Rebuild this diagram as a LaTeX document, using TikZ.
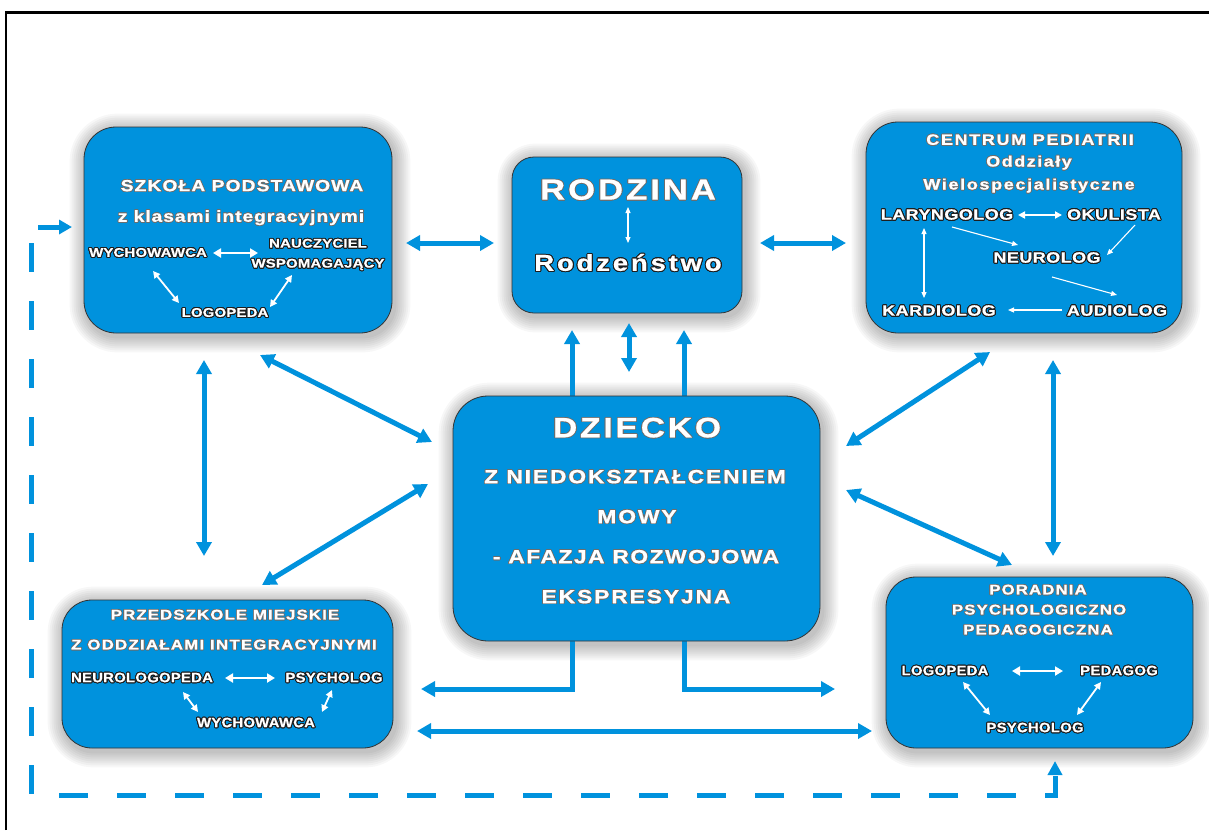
\documentclass[tikz,border=0pt]{standalone}
\usepackage{fontspec}
\setmainfont{Liberation Sans}
\usepackage{contour}
\usetikzlibrary{arrows.meta,calc}
\definecolor{boxblue}{RGB}{0,146,221}
\definecolor{titleline}{RGB}{110,110,110}
\definecolor{itemline}{RGB}{30,30,30}
\pgfdeclarelayer{bg}
\pgfsetlayers{bg,main}
\newcommand\ttl[4]{{\bfseries\fontsize{#1}{#1}\selectfont\addfontfeature{LetterSpace=#2,FakeStretch=#3,FakeBold=0.6}\contourlength{0.7pt}\contour{titleline}{#4}}}
\newcommand\itm[4]{{\bfseries\fontsize{#1}{#1}\selectfont\addfontfeature{LetterSpace=#2,FakeStretch=#3,FakeBold=0.5}\contourlength{1pt}\contour{itemline}{#4}}}
\newcommand\halo[2]{%
  \foreach \k in {1,...,8}{%
    \pgfmathsetmacro\rr{#2+\k*2}%
    \pgfmathsetmacro\ee{\k*2}%
    \fill[black,opacity=0.032,rounded corners=\rr pt]
      ($(#1.north west)+(-\ee+2,-\ee+3)$) rectangle ($(#1.south east)+(\ee+2,\ee+3)$);}}
\tikzset{
  box/.style={draw=black!80, line width=0.8pt, fill=boxblue, inner sep=0pt},
  lbl/.style={inner sep=0pt, text=white},
  conn/.style={draw=boxblue, line width=5pt, {Triangle[length=14pt,width=15pt]}-{Triangle[length=14pt,width=15pt]}},
  conn1/.style={draw=boxblue, line width=5pt, -{Triangle[length=14pt,width=15pt]}},
  wbig/.style={draw=white, line width=2.5pt, {Triangle[length=8pt,width=9pt]}-{Triangle[length=8pt,width=9pt]}},
  wmid/.style={draw=white, line width=1.8pt, {Triangle[length=7pt,width=7pt]}-{Triangle[length=7pt,width=7pt]}},
  wthin/.style={draw=white, line width=1.1pt, -{Triangle[length=6pt,width=5pt]}},
  wthind/.style={draw=white, line width=1.1pt, {Triangle[length=6pt,width=5pt]}-{Triangle[length=6pt,width=5pt]}},
}
\begin{document}
\begin{tikzpicture}[x=1pt,y=-1pt]
\useasboundingbox (0,0) rectangle (1209,830);

% boxes
\node[box, minimum width=308pt, minimum height=206pt, rounded corners=32pt] (szk) at (238,230) {};
\node[box, minimum width=230pt, minimum height=156pt, rounded corners=22pt] (rod) at (627,235) {};
\node[box, minimum width=316pt, minimum height=211pt, rounded corners=32pt] (cen) at (1024,227.5) {};
\node[box, minimum width=367pt, minimum height=245pt, rounded corners=35pt] (dzi) at (636.5,518.5) {};
\node[box, minimum width=331pt, minimum height=148pt, rounded corners=30pt] (prz) at (227.5,674) {};
\node[box, minimum width=307pt, minimum height=171pt, rounded corners=30pt] (por) at (1039.5,662.5) {};

\begin{pgfonlayer}{bg}
\fill[white] (0,0) rectangle (1209,830);
\draw[line width=2.4pt] (6,830) -- (6,12.5) -- (1209,12.5);
\halo{szk}{32}\halo{rod}{22}\halo{cen}{32}\halo{dzi}{35}\halo{prz}{30}\halo{por}{30}
% blue connectors
\draw[conn] ($(szk)+(168,13)$) -- ($(rod)+(-133,8)$);
\draw[conn] ($(rod)+(133,8)$) -- ($(cen)+(-178,15.5)$);
\draw[conn] ($(rod)+(2,88)$) -- ($(dzi)+(-7.5,-146.5)$);
\draw[conn1] ($(dzi)+(-64.5,-122.5)$) -- ($(rod)+(-55,95)$);
\draw[conn1] ($(dzi)+(47.5,-122.5)$) -- ($(rod)+(57,95)$);
\draw[conn] ($(szk)+(22,125)$) -- ($(dzi)+(-204.5,-76.5)$);
\draw[conn] ($(szk)+(-34,130)$) -- ($(prz)+(-23.5,-118)$);
\draw[conn] ($(prz)+(34.5,-89)$) -- ($(dzi)+(-208.5,-34.5)$);
\draw[conn] ($(cen)+(-34,124.5)$) -- ($(dzi)+(209.5,-72.5)$);
\draw[conn] ($(cen)+(29,132.5)$) -- ($(por)+(13.5,-106.5)$);
\draw[conn] ($(dzi)+(209.5,-28.5)$) -- ($(por)+(-27.5,-97.5)$);
\coordinate (bl) at (421,689);
\coordinate (br) at (835,689);
\draw[conn1] ($(dzi)+(-64.5,120)$) |- (bl);
\draw[conn1] ($(dzi)+(47.5,120)$) |- (br);
\draw[conn] ($(prz)+(189.5,57)$) -- ($(por)+(-167.5,68.5)$);
\coordinate (dsA) at (31,243);
\coordinate (dsB) at (31,795);
\coordinate (dsC) at (1055,795);
\draw[draw=boxblue, line width=5pt, dash pattern=on 29pt off 29pt, -{Triangle[length=14pt,width=14pt]}] (dsA) -- (dsB) -- (dsC) -- ($(por)+(15.5,98.5)$);
\coordinate (sa) at (38,227);
\draw[conn1, -{Triangle[length=13pt,width=14pt]}] (sa) -- ($(szk)+(-166,-3)$);
\end{pgfonlayer}

% Szkoła
\node[lbl] (s1) at (242,186) {\ttl{16}{7}{1.2}{SZKOŁA PODSTAWOWA}};
\node[lbl] (s2) at (241,218) {\ttl{16}{6}{1.2}{z klasami integracyjnymi}};
\node[lbl] (wych1) at (148,253) {\itm{12.5}{1}{1.2}{WYCHOWAWCA}};
\node[lbl, align=center, font=\fontsize{13}{20}\selectfont] (naucz) at (318,255) {\itm{12.5}{1}{1.2}{NAUCZYCIEL}\\\itm{12.5}{1}{1.2}{WSPOMAGAJĄCY}};
\node[lbl] (logo1) at (225,313) {\itm{12.5}{1}{1.2}{LOGOPEDA}};
\draw[wbig] ($(wych1)+(65,0)$) -- ($(naucz)+(-60,-2)$);
\draw[wmid] ($(wych1)+(5,18)$) -- ($(logo1)+(-46,-10)$);
\draw[wmid] ($(logo1)+(45,-6)$) -- ($(naucz)+(-26,20)$);

% Rodzina
\node[lbl] (r0) at (628,190) {\ttl{29}{10}{1.2}{RODZINA}};
\node[lbl] (rodz) at (628,263) {\itm{23}{12}{1.2}{Rodzeństwo}};
\draw[wthind] ($(r0)+(0,17)$) -- ($(rodz)+(0,-20)$);

% Centrum
\node[lbl] (c1) at (1030,140) {\ttl{15}{11}{1.2}{CENTRUM PEDIATRII}};
\node[lbl] (c2) at (1029,163) {\ttl{15}{10}{1.2}{Oddziały}};
\node[lbl] (c3) at (1029,186) {\ttl{15}{11}{1.2}{Wielospecjalistyczne}};
\node[lbl] (lar) at (947,215) {\itm{15}{3}{1.2}{LARYNGOLOG}};
\node[lbl] (oku) at (1114,215) {\itm{15}{3}{1.2}{OKULISTA}};
\node[lbl] (neu) at (1047,258) {\itm{15}{3}{1.2}{NEUROLOG}};
\node[lbl] (kar) at (939,311) {\itm{15}{3}{1.2}{KARDIOLOG}};
\node[lbl] (aud) at (1117,311) {\itm{15}{3}{1.2}{AUDIOLOG}};
\draw[wmid] ($(lar)+(71,0)$) -- ($(oku)+(-52,0)$);
\draw[wthin] ($(lar)+(5,12)$) -- ($(neu)+(-29,-13)$);
\draw[wthin] ($(oku)+(21,10)$) -- ($(neu)+(60,-3)$);
\draw[wthin] ($(neu)+(5,19)$) -- ($(aud)+(0,-16)$);
\draw[wthin] ($(aud)+(-55,-1)$) -- ($(kar)+(69,-1)$);
\draw[wthind] ($(lar)+(-23,13)$) -- ($(kar)+(-15,-13)$);

% Dziecko
\node[lbl] (d1) at (637,428) {\ttl{28}{10}{1.2}{DZIECKO}};
\node[lbl] (d2) at (635,477) {\ttl{19}{10}{1.2}{Z NIEDOKSZTAŁCENIEM}};
\node[lbl] (d3) at (637,517) {\ttl{19}{10}{1.2}{MOWY}};
\node[lbl] (d4) at (636,557) {\ttl{19}{8}{1.2}{- AFAZJA ROZWOJOWA}};
\node[lbl] (d5) at (636,597) {\ttl{19}{10}{1.2}{EKSPRESYJNA}};

% Przedszkole
\node[lbl] (p1) at (225,615) {\ttl{14}{8}{1.2}{PRZEDSZKOLE MIEJSKIE}};
\node[lbl] (p2) at (224,645) {\ttl{14}{9}{1.2}{Z ODDZIAŁAMI INTEGRACYJNYMI}};
\node[lbl] (neuro) at (142,678) {\itm{13.5}{2}{1.1}{NEUROLOGOPEDA}};
\node[lbl] (psych) at (334,678) {\itm{13.5}{2}{1.1}{PSYCHOLOG}};
\node[lbl] (wych2) at (256,723) {\itm{13.5}{2}{1.1}{WYCHOWAWCA}};
\draw[wbig] ($(neuro)+(83,0)$) -- ($(psych)+(-59,0)$);
\draw[wmid] ($(neuro)+(41,14)$) -- ($(wych2)+(-58,-11)$);
\draw[wmid] ($(wych2)+(66,-11)$) -- ($(psych)+(-2,12)$);

% Poradnia
\node[lbl] (q1) at (1038,590) {\ttl{14}{8}{1.2}{PORADNIA}};
\node[lbl] (q2) at (1039,610) {\ttl{14}{8}{1.2}{PSYCHOLOGICZNO}};
\node[lbl] (q3) at (1038,630) {\ttl{14}{8}{1.2}{PEDAGOGICZNA}};
\node[lbl] (logo3) at (945,671) {\itm{13.5}{2}{1.1}{LOGOPEDA}};
\node[lbl] (ped) at (1119,671) {\itm{13.5}{2}{1.1}{PEDAGOG}};
\node[lbl] (psy3) at (1035,728) {\itm{13.5}{2}{1.1}{PSYCHOLOG}};
\draw[wbig] ($(logo3)+(67,0)$) -- ($(ped)+(-56,0)$);
\draw[wmid] ($(logo3)+(18,11)$) -- ($(psy3)+(-45,-13)$);
\draw[wmid] ($(psy3)+(42,-13)$) -- ($(ped)+(-18,11)$);
\end{tikzpicture}
\end{document}
